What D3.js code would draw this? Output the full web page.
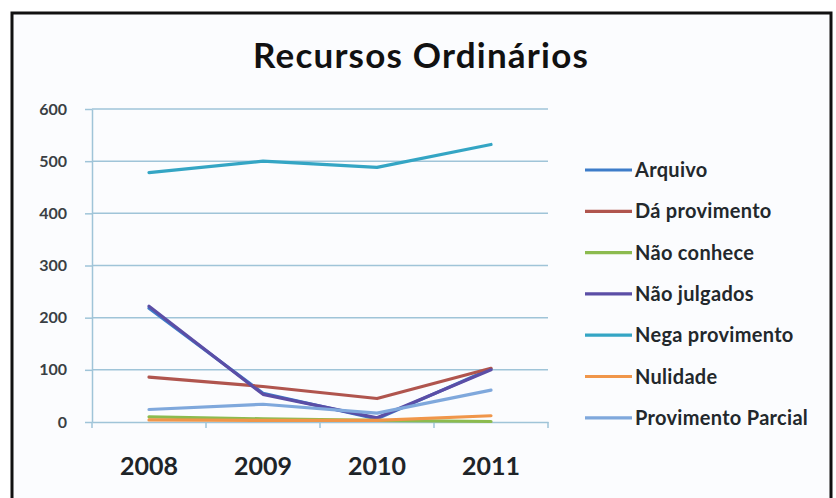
<!DOCTYPE html>
<html>
<head>
<meta charset="utf-8">
<script src="https://cdn.jsdelivr.net/npm/d3@7"></script>
<style>
  html, body { margin: 0; padding: 0; background: #ffffff; }
  svg { display: block; }
  text { font-family: Lato, "Open Sans", sans-serif; }
</style>
</head>
<body>
<svg id="chart" width="836" height="498"></svg>
<script>
// Recursos Ordinários, 2008–2011
const years = ["2008", "2009", "2010", "2011"];
const seriesNames = ["Arquivo", "Dá provimento", "Não conhece", "Não julgados",
                     "Nega provimento", "Nulidade", "Provimento Parcial"];
const arquivo           = [218, 55, 6, 102];
const daProvimento      = [86, 68, 45, 103];
const naoConhece        = [10, 6, 3, 1];
const naoJulgados       = [222, 53, 8, 100];
const negaProvimento    = [478, 500, 488, 532];
const nulidade          = [4, 3, 3, 12];
const provimentoParcial = [24, 34, 17, 61];
const yTicks = [0, 100, 200, 300, 400, 500, 600];

const seriesValues = [arquivo, daProvimento, naoConhece, naoJulgados,
                      negaProvimento, nulidade, provimentoParcial];
const colors = ["#3d7cc9", "#b0554e", "#8cbb4f", "#5b4ea6", "#34a5c4", "#f0964a", "#7fa8dc"];

const svg = d3.select("#chart");

// frame
svg.append("rect")
  .attr("x", 12).attr("y", 13).attr("width", 819).attr("height", 500)
  .attr("fill", "#fbfcfe").attr("stroke", "#111").attr("stroke-width", 3);

const plot = { left: 92, right: 548, top: 109, bottom: 422 };

const x = d3.scaleBand().domain(years).range([plot.left, plot.right]).padding(0);
const y = d3.scaleLinear().domain([0, 600]).range([plot.bottom, plot.top]);

const gridColor = "#9fc4d8";

// horizontal gridlines
svg.append("g").selectAll("line").data(yTicks.filter(d => d > 0)).join("line")
  .attr("x1", plot.left).attr("x2", plot.right)
  .attr("y1", d => y(d)).attr("y2", d => y(d))
  .attr("stroke", gridColor).attr("stroke-width", 1.5);

// y axis
const yAxis = svg.append("g")
  .attr("transform", `translate(${plot.left},0)`)
  .call(d3.axisLeft(y).tickValues(yTicks).tickSize(7).tickPadding(18).tickSizeOuter(0));
yAxis.select(".domain").attr("stroke", gridColor).attr("stroke-width", 1.5);
yAxis.selectAll(".tick line").attr("stroke", gridColor).attr("stroke-width", 1.5);
yAxis.selectAll(".tick text")
  .attr("fill", "#3a3f44").attr("font-size", 16).attr("font-weight", "bold");

// x axis with ticks between categories
const xAxis = svg.append("g")
  .attr("transform", `translate(0,${plot.bottom})`)
  .call(d3.axisBottom(x).tickSize(0).tickPadding(35));
xAxis.select(".domain").attr("stroke", gridColor).attr("stroke-width", 1.5);
xAxis.selectAll(".tick text")
  .attr("fill", "#1e2428").attr("font-size", 25).attr("font-weight", "bold");
xAxis.append("g").selectAll("line").data(years).join("line")
  .attr("x1", d => x(d)).attr("x2", d => x(d))
  .attr("y1", 0).attr("y2", 6)
  .attr("stroke", gridColor).attr("stroke-width", 1.5);
xAxis.append("line")
  .attr("x1", plot.right).attr("x2", plot.right).attr("y1", 0).attr("y2", 6)
  .attr("stroke", gridColor).attr("stroke-width", 1.5);

// series lines
const line = d3.line()
  .x((d, i) => x(years[i]) + x.bandwidth() / 2)
  .y(d => y(d));

svg.append("g").selectAll("path").data(seriesValues).join("path")
  .attr("d", d => line(d))
  .attr("fill", "none")
  .attr("stroke", (d, i) => colors[i])
  .attr("stroke-width", 3.2)
  .attr("stroke-linejoin", "round")
  .attr("stroke-linecap", "round");

// legend
const legend = svg.append("g").attr("transform", "translate(585,170)");
const rows = legend.selectAll("g").data(seriesNames).join("g")
  .attr("transform", (d, i) => `translate(0,${i * 41.3})`);
rows.append("line")
  .attr("x1", 0).attr("x2", 47).attr("y1", 0).attr("y2", 0)
  .attr("stroke", (d, i) => colors[i]).attr("stroke-width", 3.2);
rows.append("text")
  .attr("x", 50).attr("y", 7)
  .attr("fill", "#23282c").attr("font-size", 20).attr("font-weight", "bold")
  .attr("letter-spacing", 0.3)
  .text(d => d);

// title
svg.append("text")
  .attr("x", 421).attr("y", 68)
  .attr("text-anchor", "middle")
  .attr("fill", "#111").attr("font-size", 35).attr("font-weight", "bold")
  .attr("letter-spacing", 1.2)
  .text("Recursos Ordinários");
</script>
</body>
</html>
